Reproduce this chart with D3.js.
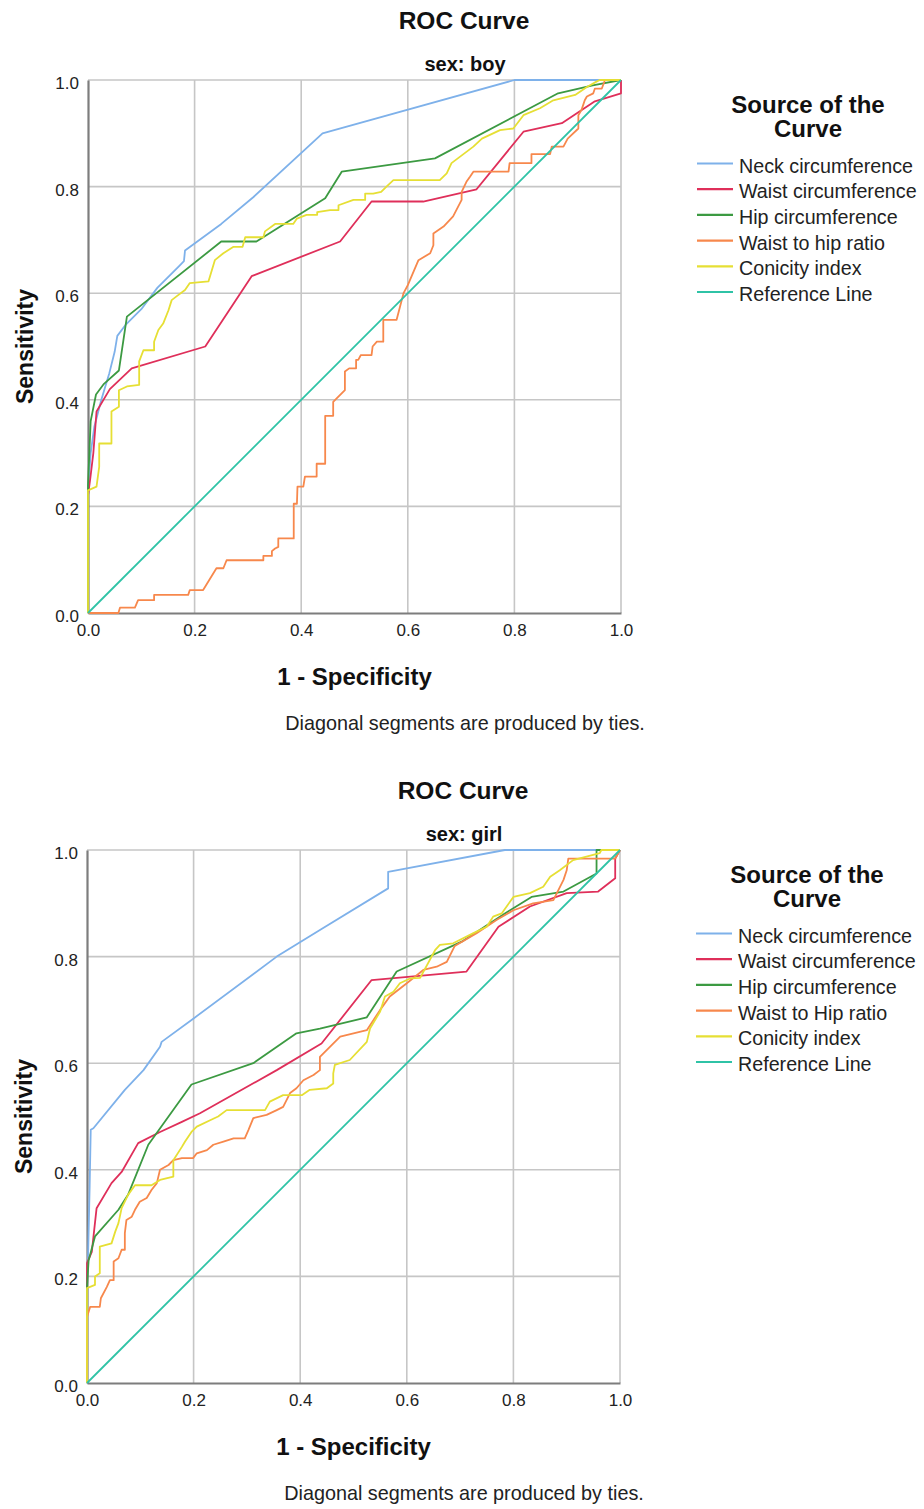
<!DOCTYPE html>
<html>
<head>
<meta charset="utf-8">
<title>ROC Curve</title>
<script src="https://d3js.org/d3.v7.min.js"></script>
<style>
    html, body { margin: 0; padding: 0; background: #fff; }
    svg { display: block; font-family: "Liberation Sans", Arial, sans-serif; }
    .tick-label { font-size: 17px; fill: #222; }
    .bold { font-weight: bold; fill: #111; }
</style>
</head>
<body>
<svg id="chart" width="924" height="1509"></svg>
<script>
const ticks = [0, 0.2, 0.4, 0.6, 0.8, 1.0];
const seriesColors = ['#7eb1ea', '#df2f5a', '#3c9a42', '#f7884c', '#e6df34', '#2fc3a6'];
const boyNames = ['Neck circumference', 'Waist circumference', 'Hip circumference', 'Waist to hip ratio', 'Conicity index', 'Reference Line'];
const girlNames = ['Neck circumference', 'Waist circumference', 'Hip circumference', 'Waist to Hip ratio', 'Conicity index', 'Reference Line'];

const referenceLine = [[0, 0], [1, 1]];

// sex: boy
const boyNeck = [[0,0],[0,0.23],[0.005,0.3],[0.012,0.35],[0.025,0.4],[0.04,0.45],[0.05,0.49],[0.055,0.52],[0.07,0.54],[0.1,0.57],[0.13,0.61],[0.17,0.65],[0.18,0.66],[0.182,0.68],[0.25,0.73],[0.31,0.78],[0.44,0.9],[0.8,1],[1,1]];
const boyWaist = [[0,0],[0,0.22],[0.004,0.25],[0.01,0.3],[0.016,0.378],[0.041,0.42],[0.082,0.459],[0.22,0.5],[0.307,0.632],[0.473,0.697],[0.532,0.772],[0.629,0.772],[0.729,0.795],[0.817,0.903],[0.889,0.919],[0.951,0.96],[1,0.975],[1,1]];
const boyHip = [[0,0],[0,0.24],[0.005,0.36],[0.015,0.41],[0.03,0.43],[0.058,0.455],[0.073,0.556],[0.25,0.697],[0.316,0.697],[0.445,0.778],[0.476,0.828],[0.651,0.853],[0.882,0.975],[0.947,0.99],[1,1]];
const boyWhr = [[0,0],[0.057,0],[0.06,0.01],[0.088,0.01],[0.094,0.024],[0.124,0.024],[0.124,0.034],[0.188,0.034],[0.191,0.043],[0.216,0.043],[0.241,0.084],[0.254,0.084],[0.26,0.099],[0.329,0.099],[0.329,0.107],[0.345,0.107],[0.345,0.116],[0.351,0.121],[0.357,0.124],[0.357,0.14],[0.386,0.14],[0.386,0.205],[0.392,0.205],[0.393,0.237],[0.404,0.237],[0.407,0.256],[0.429,0.256],[0.429,0.28],[0.445,0.28],[0.445,0.37],[0.46,0.37],[0.46,0.396],[0.482,0.418],[0.482,0.453],[0.49,0.459],[0.503,0.459],[0.503,0.475],[0.507,0.475],[0.512,0.484],[0.532,0.484],[0.534,0.5],[0.542,0.509],[0.554,0.509],[0.554,0.55],[0.579,0.55],[0.592,0.6],[0.6,0.615],[0.617,0.655],[0.62,0.662],[0.642,0.675],[0.648,0.69],[0.648,0.712],[0.667,0.725],[0.685,0.744],[0.701,0.775],[0.701,0.79],[0.71,0.809],[0.717,0.819],[0.723,0.828],[0.789,0.828],[0.791,0.844],[0.832,0.844],[0.832,0.861],[0.867,0.861],[0.87,0.875],[0.892,0.875],[0.9,0.89],[0.92,0.909],[0.92,0.934],[0.926,0.944],[0.932,0.962],[0.936,0.969],[0.948,0.975],[0.951,0.984],[0.964,0.984],[0.97,1],[1,1]];
const boyConicity = [[0,0],[0,0.23],[0.016,0.237],[0.021,0.274],[0.021,0.318],[0.044,0.318],[0.044,0.378],[0.058,0.387],[0.058,0.418],[0.073,0.425],[0.096,0.428],[0.096,0.472],[0.104,0.493],[0.124,0.493],[0.124,0.509],[0.132,0.531],[0.141,0.543],[0.151,0.568],[0.157,0.587],[0.166,0.594],[0.182,0.606],[0.191,0.619],[0.226,0.622],[0.238,0.662],[0.254,0.675],[0.273,0.687],[0.29,0.687],[0.295,0.705],[0.329,0.705],[0.332,0.716],[0.351,0.73],[0.385,0.73],[0.392,0.74],[0.41,0.747],[0.43,0.747],[0.43,0.752],[0.454,0.756],[0.47,0.756],[0.47,0.765],[0.498,0.775],[0.52,0.775],[0.52,0.787],[0.535,0.787],[0.55,0.79],[0.56,0.8],[0.573,0.812],[0.66,0.812],[0.673,0.825],[0.682,0.844],[0.723,0.875],[0.739,0.89],[0.773,0.906],[0.798,0.909],[0.817,0.934],[0.848,0.947],[0.873,0.962],[0.914,0.972],[0.936,0.987],[0.954,0.997],[0.96,1],[1,1]];

// sex: girl
const girlNeck = [[0,0],[0,0.2],[0.002,0.237],[0.005,0.37],[0.007,0.475],[0.012,0.478],[0.071,0.55],[0.106,0.587],[0.137,0.631],[0.14,0.64],[0.2,0.684],[0.356,0.8],[0.437,0.85],[0.565,0.928],[0.565,0.959],[0.784,1],[1,1]];
const girlWaist = [[0,0],[0,0.225],[0.009,0.246],[0.018,0.328],[0.046,0.375],[0.065,0.396],[0.096,0.45],[0.137,0.471],[0.178,0.49],[0.212,0.506],[0.356,0.587],[0.44,0.637],[0.534,0.756],[0.712,0.772],[0.772,0.856],[0.831,0.894],[0.9,0.919],[0.959,0.922],[0.991,0.947],[0.991,0.984],[1,1]];
const girlHip = [[0,0],[0,0.18],[0.003,0.23],[0.015,0.275],[0.059,0.325],[0.077,0.353],[0.115,0.447],[0.196,0.56],[0.312,0.6],[0.393,0.656],[0.437,0.665],[0.525,0.686],[0.581,0.772],[0.703,0.828],[0.784,0.881],[0.834,0.912],[0.894,0.922],[0.956,0.956],[0.956,1],[1,1]];
const girlWhr = [[0,0],[0,0.124],[0.006,0.143],[0.024,0.143],[0.026,0.159],[0.037,0.18],[0.043,0.193],[0.05,0.193],[0.05,0.228],[0.059,0.234],[0.065,0.25],[0.071,0.25],[0.071,0.281],[0.074,0.306],[0.084,0.312],[0.09,0.325],[0.099,0.34],[0.112,0.347],[0.121,0.362],[0.131,0.375],[0.137,0.4],[0.153,0.409],[0.162,0.418],[0.178,0.422],[0.199,0.422],[0.206,0.431],[0.225,0.437],[0.237,0.447],[0.256,0.453],[0.275,0.459],[0.296,0.459],[0.303,0.475],[0.312,0.497],[0.337,0.503],[0.356,0.512],[0.368,0.518],[0.381,0.544],[0.393,0.553],[0.406,0.568],[0.425,0.578],[0.437,0.587],[0.437,0.612],[0.475,0.65],[0.525,0.662],[0.55,0.7],[0.568,0.725],[0.6,0.75],[0.631,0.775],[0.656,0.781],[0.675,0.79],[0.69,0.82],[0.731,0.844],[0.769,0.869],[0.8,0.887],[0.837,0.9],[0.875,0.906],[0.894,0.944],[0.9,0.962],[0.903,0.984],[0.991,0.984],[1,1]];
const girlConicity = [[0,0],[0,0.178],[0.015,0.184],[0.015,0.2],[0.024,0.206],[0.024,0.256],[0.046,0.262],[0.053,0.284],[0.059,0.3],[0.065,0.328],[0.077,0.353],[0.09,0.371],[0.121,0.371],[0.137,0.381],[0.162,0.387],[0.162,0.418],[0.178,0.443],[0.184,0.453],[0.196,0.471],[0.206,0.481],[0.231,0.493],[0.246,0.5],[0.262,0.512],[0.334,0.512],[0.343,0.528],[0.368,0.54],[0.403,0.54],[0.418,0.55],[0.45,0.553],[0.462,0.562],[0.462,0.581],[0.465,0.597],[0.493,0.606],[0.525,0.64],[0.531,0.665],[0.55,0.697],[0.559,0.725],[0.575,0.734],[0.587,0.75],[0.606,0.759],[0.625,0.76],[0.653,0.812],[0.662,0.822],[0.687,0.825],[0.725,0.844],[0.75,0.856],[0.762,0.875],[0.778,0.881],[0.8,0.912],[0.831,0.919],[0.856,0.931],[0.869,0.95],[0.887,0.962],[0.912,0.981],[0.962,0.994],[0.965,1],[1,1]];

const panels = [
    { subtitle: 'sex: boy', names: boyNames, offset: [0, 0],
      series: [boyNeck, boyWaist, boyHip, boyWhr, boyConicity, referenceLine] },
    { subtitle: 'sex: girl', names: girlNames, offset: [-1, 770],
      series: [girlNeck, girlWaist, girlHip, girlWhr, girlConicity, referenceLine] },
];

const plotLeft = 88, plotTop = 80, plotSize = 533;
const x = d3.scaleLinear().domain([0, 1]).range([plotLeft, plotLeft + plotSize]);
const y = d3.scaleLinear().domain([0, 1]).range([plotTop + plotSize, plotTop]);
const line = d3.line().x(d => x(d[0])).y(d => y(d[1]));

const svg = d3.select('#chart');
svg.append('rect').attr('width', 924).attr('height', 1509).attr('fill', '#fff');

function drawPanel(p) {
    const g = svg.append('g').attr('transform', `translate(${p.offset[0]} ${p.offset[1]})`);

    g.append('text').attr('class', 'bold')
        .attr('x', 464).attr('y', 29).attr('text-anchor', 'middle')
        .style('font-size', '24.5px').text('ROC Curve');
    g.append('text').attr('class', 'bold')
        .attr('x', 465).attr('y', 71).attr('text-anchor', 'middle')
        .style('font-size', '20px').text(p.subtitle);

    // grid
    const grid = g.append('g');
    grid.selectAll('line.gx').data(ticks.slice(1)).join('line')
        .attr('x1', d => x(d)).attr('x2', d => x(d))
        .attr('y1', y(0)).attr('y2', y(1))
        .attr('stroke', '#c6c6c6').attr('stroke-width', 1.6);
    grid.selectAll('line.gy').data(ticks.slice(1)).join('line')
        .attr('x1', x(0)).attr('x2', x(1))
        .attr('y1', d => y(d)).attr('y2', d => y(d))
        .attr('stroke', '#c6c6c6').attr('stroke-width', 1.6);

    // axes
    const xAxis = g.append('g').attr('transform', `translate(0 ${y(0)})`)
        .call(d3.axisBottom(x).tickValues(ticks).tickFormat(d3.format('.1f')).tickSize(0).tickPadding(8));
    const yAxis = g.append('g').attr('transform', `translate(${x(0)} 0)`)
        .call(d3.axisLeft(y).tickValues(ticks).tickFormat(d3.format('.1f')).tickSize(0).tickPadding(9));
    [xAxis, yAxis].forEach(a => {
        a.select('.domain').attr('stroke', '#7d7d7d').attr('stroke-width', 2.2);
        a.selectAll('text').attr('class', 'tick-label').attr('font-family', null).attr('font-size', null);
    });
    xAxis.selectAll('text').attr('dy', '0.9em');
    yAxis.selectAll('text').attr('dy', '0.5em');

    g.append('text').attr('class', 'bold')
        .attr('transform', `translate(33 ${y(0.5)}) rotate(-90)`)
        .attr('text-anchor', 'middle').style('font-size', '23px').text('Sensitivity');
    g.append('text').attr('class', 'bold')
        .attr('x', x(0.5)).attr('y', 685).attr('text-anchor', 'middle')
        .style('font-size', '24px').text('1 - Specificity');
    g.append('text')
        .attr('x', 465).attr('y', 730).attr('text-anchor', 'middle')
        .style('font-size', '19.8px').attr('fill', '#222')
        .text('Diagonal segments are produced by ties.');

    // curves
    g.append('g').selectAll('path').data(p.series).join('path')
        .attr('d', line)
        .attr('fill', 'none')
        .attr('stroke', (d, i) => seriesColors[i])
        .attr('stroke-width', 1.8)
        .attr('stroke-linejoin', 'round');

    // legend
    const lg = g.append('g');
    lg.append('text').attr('class', 'bold').attr('x', 808).attr('y', 113)
        .attr('text-anchor', 'middle').style('font-size', '24px').text('Source of the');
    lg.append('text').attr('class', 'bold').attr('x', 808).attr('y', 137)
        .attr('text-anchor', 'middle').style('font-size', '24px').text('Curve');
    const items = lg.selectAll('g.item').data(p.names).join('g')
        .attr('class', 'item')
        .attr('transform', (d, i) => `translate(0 ${163.5 + i * 25.7})`);
    items.append('line')
        .attr('x1', 697).attr('x2', 733).attr('y1', 0).attr('y2', 0)
        .attr('stroke', (d, i) => seriesColors[i]).attr('stroke-width', 2.2);
    items.append('text')
        .attr('x', 739).attr('y', 9)
        .style('font-size', '19.7px').attr('fill', '#222')
        .text(d => d);
}

panels.forEach(drawPanel);
</script>
</body>
</html>
